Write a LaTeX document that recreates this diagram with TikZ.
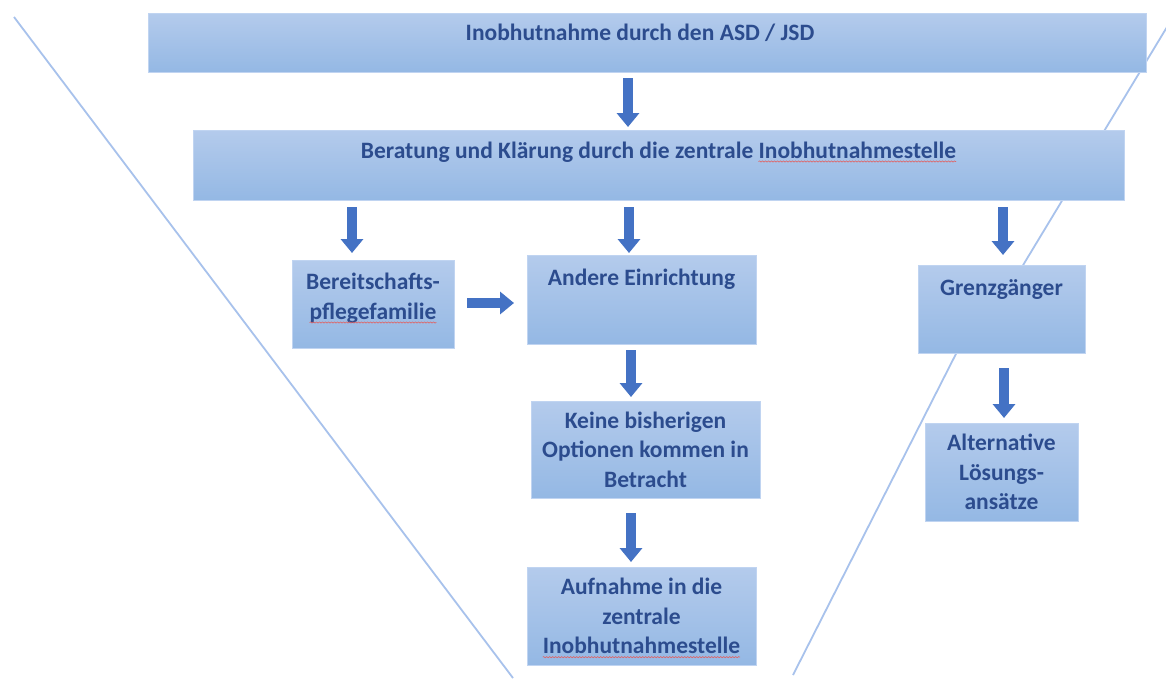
\documentclass[tikz,border=0pt]{standalone}
\usepackage{fontspec}
\setmainfont{Carlito}
\usetikzlibrary{arrows.meta,calc,decorations.pathmorphing}
\definecolor{boxtop}{RGB}{180,203,236}
\definecolor{boxbot}{RGB}{148,184,228}
\definecolor{boxedge}{RGB}{192,212,241}
\definecolor{txtblue}{RGB}{44,76,142}
\definecolor{arrblue}{RGB}{68,114,196}
\definecolor{funnel}{RGB}{168,194,236}
\definecolor{spellred}{RGB}{226,96,96}
\newlength\spellwd
\newcommand\spell[1]{\settowidth\spellwd{#1}\leavevmode\rlap{#1}\tikz[baseline=0pt,x=1pt,y=1pt]{\useasboundingbox (0,0) rectangle (\spellwd,0);\draw[spellred,line width=0.6pt,decorate,decoration={snake,amplitude=0.6pt,segment length=3pt}] (0,-3.5) -- (\spellwd,-3.5);}}
\begin{document}
\begin{tikzpicture}[x=1pt,y=-1pt,
  box/.style={inner sep=0pt, outer sep=0pt, top color=boxtop, bottom color=boxbot,
    draw=boxedge, line width=0.8pt, font=\fontsize{23.5}{29.5}\selectfont\bfseries,
    text=txtblue, align=center},
  txt/.style={inner sep=0pt, font=\fontsize{23.5}{29.5}\selectfont\bfseries,
    text=txtblue, align=center},
  barrow/.style={draw=arrblue, line width=10.5pt, -{Triangle[length=14pt,width=22pt]}},
  fline/.style={draw=funnel, line width=1.8pt}]
\useasboundingbox (0,0) rectangle (1166,696);
\fill[white] (0,0) rectangle (1166,696);
% funnel lines (behind the boxes)
\coordinate (fl1) at (14,17);
\coordinate (fl2) at (513,678);
\coordinate (fr1) at (1167,27);
\coordinate (fr2) at (1005,295);
\coordinate (fr3) at (963,340);
\coordinate (fr4) at (793,675);
\draw[fline] (fl1) -- (fl2);
\draw[fline] (fr1) -- (fr2);
\draw[fline] (fr3) -- (fr4);
% boxes
\node[box, minimum width=998pt, minimum height=59pt] (top) at (647,42.5) {};
\node[box, minimum width=931pt, minimum height=70pt] (berat) at (658.5,165) {};
\node[box, minimum width=162pt, minimum height=88pt] (bereit) at (373,304) {};
\node[box, minimum width=229pt, minimum height=89pt] (andere) at (641.5,299.5) {};
\node[box, minimum width=167pt, minimum height=88pt] (grenz) at (1001.5,309) {};
\node[box, minimum width=229pt, minimum height=97pt] (keine) at (645.5,449.5) {Keine bisherigen\\Optionen kommen in\\Betracht};
\node[box, minimum width=229pt, minimum height=98pt] (aufn) at (641.5,616) {Aufnahme in die\\zentrale\\\spell{Inobhutnahmestelle}};
\node[box, minimum width=153pt, minimum height=98pt] (alt) at (1001.5,472) {Alternative\\Lösungs-\\ansätze};
% texts placed near the top of their boxes
\node[txt, anchor=base] (topT) at (640,40) {Inobhutnahme durch den ASD / JSD};
\node[txt, anchor=base] (beratT) at (658.5,158) {Beratung und Klärung durch die zentrale \spell{Inobhutnahmestelle}};
\node[txt, anchor=base] (andereT) at (641.5,285) {Andere Einrichtung};
\node[txt, anchor=base] (grenzT) at (1001.5,295) {Grenzgänger};
\node[txt] (bereitT) at (373,298) {Bereitschafts-\\\spell{pflegefamilie}};
% arrow columns
\coordinate (c1) at (628,0);
\coordinate (c2) at (352,0);
\coordinate (c3) at (629,0);
\coordinate (c4) at (1003,0);
\coordinate (c5) at (631,0);
\coordinate (c6) at (1004,0);
\coordinate (r1) at (0,303);
% arrows
\draw[barrow] ($(top.south -| c1)+(0,6)$) -- ($(berat.north -| c1)+(0,-3)$);
\draw[barrow] ($(berat.south -| c2)+(0,7)$) -- ($(bereit.north -| c2)+(0,-7)$);
\draw[barrow] ($(berat.south -| c3)+(0,7)$) -- ($(andere.north -| c3)+(0,-2)$);
\draw[barrow] ($(berat.south -| c4)+(0,7)$) -- ($(grenz.north -| c4)+(0,-10)$);
\draw[barrow] ($(andere.south -| c5)+(0,6)$) -- ($(keine.north -| c5)+(0,-4)$);
\draw[barrow] ($(keine.south -| c5)+(0,15)$) -- ($(aufn.north -| c5)+(0,-5)$);
\draw[barrow] ($(grenz.south -| c6)+(0,15)$) -- ($(alt.north -| c6)+(0,-5)$);
\draw[barrow] ($(bereit.east |- r1)+(13,0)$) -- ($(andere.west |- r1)+(-13,0)$);
\end{tikzpicture}
\end{document}
